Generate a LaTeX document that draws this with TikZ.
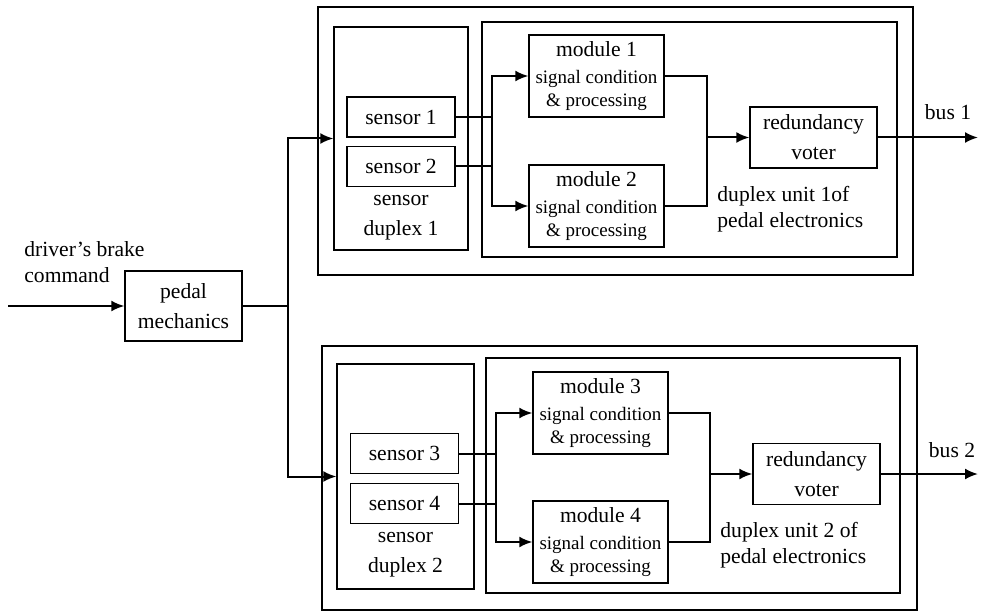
\documentclass[tikz,border=0pt]{standalone}
\usepackage{fontspec}
\setmainfont{Liberation Serif}
\usetikzlibrary{arrows.meta}

\newcommand{\sm}{\fontsize{9.5}{12}\selectfont}

\begin{document}
\begin{tikzpicture}[x=0.5pt,y=-0.5pt,
            font=\fontsize{10.8}{15}\selectfont,
            block/.style={draw,line width=0.7pt,inner sep=0pt,align=center},
            frame/.style={draw,line width=0.7pt,inner sep=0pt},
            modbox/.style={block,minimum width=67.5pt,minimum height=41pt},
            sensbox/.style={block,minimum width=54pt,minimum height=20pt},
            voter/.style={block,minimum width=63.5pt,minimum height=30.5pt},
            wire/.style={line width=1pt},
            sig/.style={wire,-{Latex[length=6.5pt,width=5.5pt]}},
            tag/.style={align=left,inner sep=0pt,font=\fontsize{10.8}{13}\selectfont},
            ]
            \useasboundingbox (0,0) rectangle (981,615);

            % input and pedal
            \node[tag,anchor=west] (cmd) at (24,262) {driver’s brake\\command};
            \coordinate (cmdin) at (8,306);
            \node[block,minimum width=58.5pt,minimum height=35pt] (pedal) at (183.5,306) {pedal\\mechanics};
            \coordinate (jp) at (288,306);

            % duplex unit 1
            \node[frame,minimum width=297.5pt,minimum height=134pt] (o1) at (615.5,141) {};
            \node[frame,minimum width=67pt,minimum height=111.5pt] (sd1) at (401,138.5) {};
            \node[frame,minimum width=207.5pt,minimum height=117.5pt] (e1) at (689.5,139.5) {};
            \node[sensbox] (s1) at (401,117) {sensor 1};
            \node[sensbox] (s2) at (401,166.5) {sensor 2};
            \node[align=center,inner sep=0pt] (sdl1) at (401,218) {sensor\\duplex 1};
            \node[modbox] (m1) at (596.5,76) {module 1\\[-1.5pt]{\sm signal condition}\\[-3.5pt]{\sm \& processing}};
            \node[modbox] (m2) at (596.5,206) {module 2\\[-1.5pt]{\sm signal condition}\\[-3.5pt]{\sm \& processing}};
            \node[voter] (v1) at (813.5,137.5) {redundancy\\voter};
            \node[tag,anchor=west] (el1) at (717,209) {duplex unit 1of\\pedal electronics};
            \node[inner sep=0pt] (b1) at (948,112) {bus 1};
            \coordinate (ja1) at (492,141);
            \coordinate (jb1) at (707,141);
            \coordinate (bus1) at (978,137.5);

            % duplex unit 2
            \node[frame,minimum width=297.5pt,minimum height=132pt] (o2) at (619.5,478) {};
            \node[frame,minimum width=68.5pt,minimum height=112.5pt] (sd2) at (405.5,476.5) {};
            \node[frame,minimum width=207pt,minimum height=117.5pt] (e2) at (693,475.5) {};
            \node[sensbox] (s3) at (404.5,453.5) {sensor 3};
            \node[sensbox] (s4) at (404.5,503.5) {sensor 4};
            \node[align=center,inner sep=0pt] (sdl2) at (405.5,555) {sensor\\duplex 2};
            \node[modbox] (m3) at (600.5,413) {module 3\\[-1.5pt]{\sm signal condition}\\[-3.5pt]{\sm \& processing}};
            \node[modbox] (m4) at (600.5,542) {module 4\\[-1.5pt]{\sm signal condition}\\[-3.5pt]{\sm \& processing}};
            \node[voter] (v2) at (816.5,474) {redundancy\\voter};
            \node[tag,anchor=west] (el2) at (720,545) {duplex unit 2 of\\pedal electronics};
            \node[inner sep=0pt] (b2) at (952,450) {bus 2};
            \coordinate (ja2) at (496,478);
            \coordinate (jb2) at (710,478);
            \coordinate (bus2) at (978,474);

            % connectors
            \draw[sig] (cmdin) -- (pedal.west);
            \draw[wire] (pedal.east) -- (jp);
            \draw[sig] (jp) |- (sd1.west);
            \draw[sig] (jp) |- (sd2.west);

            \draw[wire] (s1.east) -- (s1.east -| ja1);
            \draw[wire] (s2.east) -- (s2.east -| ja1);
            \draw[sig] (ja1 |- m2.west) |- (m1.west);
            \draw[sig] (ja1 |- m1.west) |- (m2.west);
            \draw[wire] (m1.east) -| (jb1 |- m2.east) -- (m2.east);
            \draw[sig] (jb1 |- v1.west) -- (v1.west);
            \draw[sig] (v1.east) -- (bus1);

            \draw[wire] (s3.east) -- (s3.east -| ja2);
            \draw[wire] (s4.east) -- (s4.east -| ja2);
            \draw[sig] (ja2 |- m4.west) |- (m3.west);
            \draw[sig] (ja2 |- m3.west) |- (m4.west);
            \draw[wire] (m3.east) -| (jb2 |- m4.east) -- (m4.east);
            \draw[sig] (jb2 |- v2.west) -- (v2.west);
            \draw[sig] (v2.east) -- (bus2);
\end{tikzpicture}
\end{document}
